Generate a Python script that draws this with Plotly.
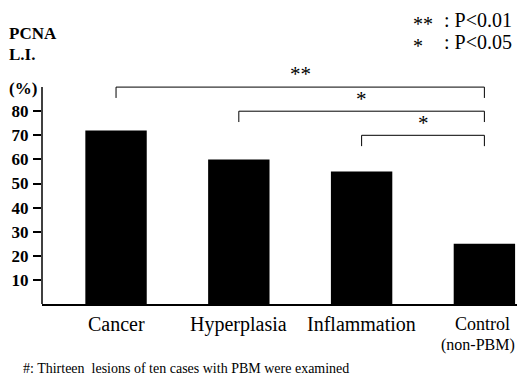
import plotly.graph_objects as go

categories = ["Cancer", "Hyperplasia", "Inflammation", "Control<br>(non-PBM)"]
values = [72, 60, 55, 25]
ytick_vals = [10, 20, 30, 40, 50, 60, 70, 80]
# significance brackets: (from index, to index, height, label)
brackets = [(0, 3, 90, "**"), (1, 3, 80, "*"), (2, 3, 70, "*")]

SERIF = "Liberation Serif, Times New Roman, serif"
xpos = list(range(len(categories)))

# page is offset by the 8px body margin; size figure to fit the window
W, H = 517, 368
L, R, T, B = 34, 5, 55, 72
pw, ph = W - L - R, H - T - B


def px(xp):  # page pixel x -> paper
    return (xp - 8 - L) / pw


def py(yp):  # page pixel y -> paper
    return (H - B - (yp - 8)) / ph


fig = go.Figure()
fig.add_trace(go.Bar(x=xpos, y=values, width=0.5, marker=dict(color="black", line=dict(width=0)),
                     showlegend=False, hoverinfo="skip"))

shapes = []
annotations = []
shapes.append(dict(type="line", xref="paper", yref="y", x0=0, x1=0, y0=0, y1=90,
                   line=dict(color="black", width=1.5)))
for a, b, h, lab in brackets:
    shapes.append(dict(type="path", xref="x", yref="y",
                       path=f"M {a},{h-4.5} L {a},{h} L {b},{h} L {b},{h-4.5}",
                       line=dict(color="black", width=1)))
    annotations.append(dict(x=(a + b) / 2, y=h + 6.5, xref="x", yref="y", text=lab, showarrow=False,
                            yanchor="middle", yshift=-3,
                            font=dict(family=SERIF, size=21, color="black")))

for i, c in enumerate(categories):
    lines = c.split("<br>")
    multi = len(lines) > 1
    for k, ln in enumerate(lines):
        annotations.append(dict(x=i, y=py(324 + 21 * k), xref="x", yref="paper", text=ln,
                                showarrow=False, yanchor="middle",
                                xshift=0 if not multi else (-2 if k == 0 else -6),
                                font=dict(family=SERIF, size=20 if not multi else (18 if k == 0 else 16),
                                          color="black")))

bold = dict(family=SERIF, size=17, color="black", weight="bold")
big = dict(family=SERIF, size=20, color="black")
annotations += [
    dict(x=px(7), y=py(33), xref="paper", yref="paper", text="PCNA", showarrow=False,
         xanchor="left", yanchor="middle", font=bold),
    dict(x=px(7), y=py(55), xref="paper", yref="paper", text="L.I.", showarrow=False,
         xanchor="left", yanchor="middle", font=bold),
    dict(x=px(7), y=py(88), xref="paper", yref="paper", text="(%)", showarrow=False,
         xanchor="left", yanchor="middle", font=bold),
    dict(x=px(411), y=py(20), xref="paper", yref="paper", text="**", showarrow=False,
         xanchor="left", yanchor="middle", yshift=-4, font=big),
    dict(x=px(411), y=py(42), xref="paper", yref="paper", text="*", showarrow=False,
         xanchor="left", yanchor="middle", yshift=-4, font=big),
    dict(x=px(442), y=py(20), xref="paper", yref="paper", text=": P<0.01", showarrow=False,
         xanchor="left", yanchor="middle", font=big),
    dict(x=px(442), y=py(42), xref="paper", yref="paper", text=": P<0.05", showarrow=False,
         xanchor="left", yanchor="middle", font=big),
    dict(x=px(21), y=py(368), xref="paper", yref="paper",
         text="#: Thirteen  lesions of ten cases with PBM were examined", showarrow=False,
         xanchor="left", yanchor="middle", font=dict(family=SERIF, size=14, color="black")),
]

fig.update_layout(
    width=W, height=H,
    margin=dict(l=L, r=R, t=T, b=B),
    paper_bgcolor="white", plot_bgcolor="white",
    xaxis=dict(range=[-0.603, 3.29], showticklabels=False, ticks="", showgrid=False, zeroline=False,
               showline=True, linecolor="black", linewidth=1.5, fixedrange=True),
    yaxis=dict(range=[0, 100], tickvals=ytick_vals, ticks="outside", ticklen=8, tickwidth=1.5,
               tickcolor="black", showgrid=False, zeroline=False, showline=False,
               tickfont=bold, ticklabelstandoff=1),
    shapes=shapes, annotations=annotations, font=dict(family=SERIF, color="black"),
)
fig.write_html("out.html")
